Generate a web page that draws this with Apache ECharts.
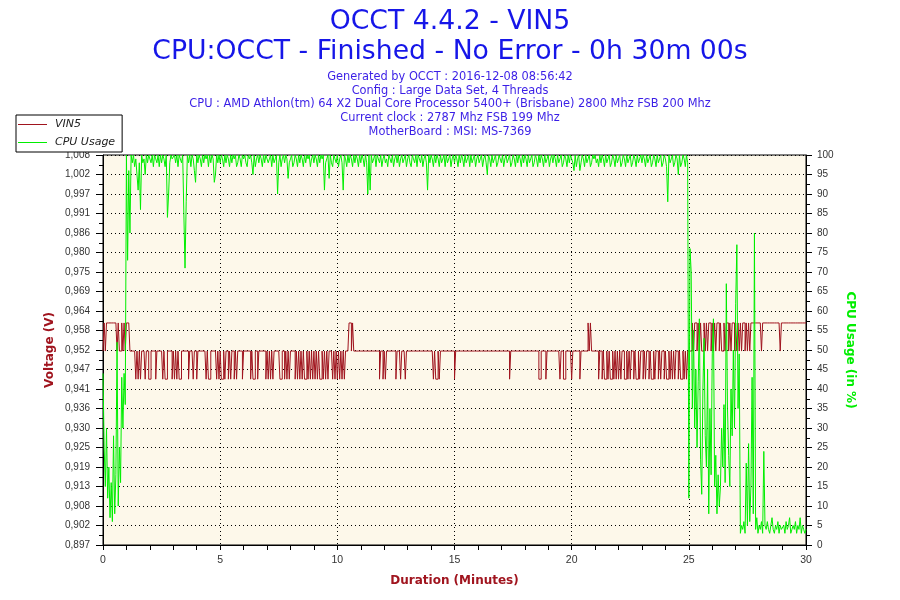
<!DOCTYPE html>
<html><head><meta charset="utf-8">
<script src="https://cdn.jsdelivr.net/npm/echarts@6/dist/echarts.min.js"></script>
<style>html,body{margin:0;padding:0;background:#fff}#c{width:900px;height:600px}</style>
</head><body><div id="c"></div>
<script>
const titleLines = ['OCCT 4.4.2 - VIN5', 'CPU:OCCT - Finished - No Error - 0h 30m 00s'];
const infoLines = [
  'Generated by OCCT : 2016-12-08 08:56:42',
  'Config : Large Data Set, 4 Threads',
  'CPU : AMD Athlon(tm) 64 X2 Dual Core Processor 5400+ (Brisbane) 2800 Mhz FSB 200 Mhz',
  'Current clock : 2787 Mhz FSB 199 Mhz',
  'MotherBoard : MSI: MS-7369'
];
const seriesNames = ['VIN5', 'CPU Usage'];
const axisNames = ['Duration (Minutes)', 'Voltage (V)', 'CPU Usage (in %)'];
const sampleStep = 0.05; // minutes between samples
const voltMin = 0.8968;
const voltStep = 0.00555;
const voltTickLabels = ['0,897','0,902','0,908','0,913','0,919','0,925','0,930','0,936','0,941','0,947','0,952','0,958','0,964','0,969','0,975','0,980','0,986','0,991','0,997','1,002','1,008'];

// VIN5 voltage, one value every 0.05 min (one row per minute)
const vinValues = [
0.952,0.960,0.952,0.960,0.960,0.960,0.960,0.960,0.960,0.960,0.960,0.960,0.952,0.960,0.952,0.952,0.960,0.952,0.960,0.952,
0.960,0.960,0.960,0.952,0.952,0.952,0.952,0.952,0.944,0.952,0.944,0.952,0.944,0.952,0.952,0.952,0.944,0.952,0.952,0.944,
0.944,0.952,0.952,0.952,0.952,0.944,0.952,0.952,0.952,0.952,0.952,0.944,0.952,0.944,0.944,0.952,0.952,0.952,0.952,0.944,
0.952,0.944,0.952,0.944,0.952,0.944,0.944,0.952,0.952,0.952,0.952,0.952,0.952,0.944,0.952,0.952,0.952,0.944,0.952,0.952,
0.944,0.952,0.952,0.952,0.952,0.952,0.952,0.952,0.944,0.952,0.944,0.944,0.952,0.952,0.952,0.952,0.952,0.944,0.952,0.944,
0.952,0.944,0.944,0.952,0.944,0.952,0.952,0.944,0.952,0.944,0.952,0.952,0.944,0.952,0.944,0.952,0.952,0.952,0.952,0.944,
0.952,0.952,0.952,0.952,0.952,0.952,0.944,0.952,0.944,0.944,0.952,0.952,0.944,0.952,0.952,0.952,0.952,0.952,0.952,0.944,
0.952,0.944,0.952,0.944,0.952,0.944,0.952,0.952,0.952,0.952,0.952,0.944,0.944,0.952,0.952,0.944,0.952,0.944,0.952,0.944,
0.952,0.952,0.952,0.952,0.944,0.952,0.944,0.952,0.944,0.952,0.944,0.952,0.944,0.944,0.952,0.944,0.952,0.944,0.952,0.944,
0.952,0.944,0.952,0.944,0.952,0.944,0.944,0.952,0.944,0.952,0.944,0.952,0.944,0.952,0.952,0.952,0.944,0.952,0.944,0.952,
0.944,0.952,0.944,0.952,0.944,0.952,0.944,0.952,0.952,0.952,0.960,0.960,0.952,0.960,0.952,0.952,0.952,0.952,0.952,0.952,
0.952,0.952,0.952,0.952,0.952,0.952,0.952,0.952,0.952,0.952,0.952,0.952,0.952,0.952,0.952,0.952,0.944,0.952,0.952,0.944,
0.952,0.944,0.952,0.952,0.952,0.952,0.952,0.952,0.952,0.952,0.944,0.952,0.952,0.952,0.944,0.952,0.952,0.952,0.944,0.952,
0.952,0.952,0.952,0.952,0.952,0.952,0.952,0.952,0.952,0.952,0.952,0.952,0.952,0.952,0.952,0.952,0.952,0.952,0.952,0.952,
0.952,0.952,0.944,0.952,0.944,0.944,0.952,0.944,0.952,0.952,0.952,0.952,0.952,0.952,0.952,0.952,0.952,0.952,0.952,0.952,
0.944,0.952,0.952,0.952,0.952,0.952,0.952,0.952,0.952,0.952,0.952,0.952,0.952,0.952,0.952,0.952,0.952,0.952,0.952,0.952,
0.952,0.952,0.952,0.952,0.952,0.952,0.952,0.952,0.952,0.952,0.952,0.952,0.952,0.952,0.952,0.952,0.952,0.952,0.952,0.952,
0.952,0.952,0.952,0.952,0.952,0.952,0.952,0.944,0.952,0.952,0.952,0.952,0.952,0.952,0.952,0.952,0.952,0.952,0.952,0.952,
0.952,0.952,0.952,0.952,0.952,0.952,0.952,0.952,0.952,0.952,0.952,0.952,0.944,0.944,0.952,0.952,0.952,0.952,0.944,0.952,
0.952,0.952,0.952,0.952,0.952,0.952,0.952,0.952,0.952,0.952,0.944,0.952,0.952,0.944,0.944,0.952,0.952,0.952,0.952,0.952,
0.944,0.952,0.952,0.952,0.952,0.952,0.952,0.944,0.952,0.952,0.952,0.952,0.952,0.952,0.960,0.952,0.960,0.952,0.952,0.952,
0.952,0.952,0.952,0.944,0.952,0.952,0.944,0.952,0.944,0.944,0.952,0.944,0.952,0.944,0.944,0.952,0.944,0.952,0.944,0.952,
0.944,0.952,0.944,0.952,0.952,0.944,0.944,0.952,0.944,0.952,0.944,0.952,0.952,0.944,0.952,0.944,0.944,0.952,0.944,0.952,
0.952,0.944,0.952,0.944,0.952,0.952,0.944,0.952,0.944,0.944,0.952,0.944,0.952,0.952,0.944,0.952,0.944,0.952,0.952,0.944,
0.952,0.944,0.944,0.952,0.944,0.952,0.944,0.952,0.944,0.952,0.952,0.944,0.952,0.944,0.944,0.952,0.944,0.952,0.944,0.952,
0.952,0.952,0.952,0.960,0.952,0.960,0.960,0.952,0.960,0.952,0.960,0.952,0.952,0.960,0.952,0.960,0.952,0.960,0.960,0.952,
0.960,0.952,0.960,0.952,0.960,0.960,0.952,0.960,0.952,0.952,0.960,0.952,0.960,0.960,0.952,0.960,0.952,0.960,0.960,0.952,
0.960,0.952,0.960,0.952,0.960,0.952,0.960,0.960,0.952,0.960,0.952,0.960,0.952,0.960,0.960,0.960,0.960,0.960,0.960,0.960,
0.960,0.960,0.952,0.960,0.960,0.960,0.960,0.960,0.960,0.960,0.960,0.960,0.960,0.960,0.960,0.960,0.960,0.960,0.952,0.960,
0.960,0.960,0.960,0.960,0.960,0.960,0.960,0.960,0.960,0.960,0.960,0.960,0.960,0.960,0.960,0.960,0.960,0.960,0.960,0.960,
0.960
];

// CPU usage in %, one value every 0.05 min (one row per minute)
const cpuValues = [
44,25,15,30,12,20,7,16,6,28,8,18,52,10,25,16,43,30,44,36,
100,73,96,80,100,98,100,97,99,95,91,98,86,100,98,99,95,100,98,100,
100,98,100,97,100,99,98,100,97,100,98,100,99,97,100,84,90,98,100,99,
99,100,98,100,97,100,99,98,100,85,71,88,100,98,100,97,100,99,96,93,
100,98,100,99,97,100,98,100,99,100,97,100,98,100,99,93,95,100,98,100,
98,100,99,97,100,98,100,99,97,100,98,100,99,100,97,98,100,99,97,100,
99,100,98,97,100,99,100,98,95,100,97,99,100,98,100,99,97,100,98,100,
100,98,99,100,97,100,98,99,100,90,98,100,97,99,100,98,100,99,94,98,
99,100,97,98,100,99,97,100,98,100,99,97,100,98,100,99,100,97,99,100,
98,100,99,97,100,98,100,99,100,91,98,99,100,94,100,98,97,100,99,98,
100,97,99,100,98,91,100,99,97,100,98,100,99,97,100,98,100,99,97,100,
98,100,99,97,100,98,90,100,91,100,98,99,100,97,100,99,98,100,97,99,
100,98,99,97,100,99,98,100,97,99,100,98,100,97,99,100,98,99,100,97,
99,100,98,97,100,99,98,100,97,100,99,98,100,97,99,100,98,91,100,98,
100,99,97,100,98,100,99,97,100,98,99,100,97,100,98,99,100,97,99,100,
98,100,99,97,100,98,100,99,97,100,98,99,100,97,100,98,99,100,97,99,
100,98,99,100,97,99,100,98,95,100,99,97,100,98,99,100,97,98,100,99,
98,100,97,99,100,98,99,100,97,98,100,99,97,100,98,100,99,97,100,98,
100,99,97,100,98,99,100,97,98,100,99,97,100,98,100,99,97,100,98,99,
100,97,99,100,98,100,99,97,100,98,99,100,97,98,100,99,97,100,98,100,
99,98,96,100,97,99,100,96,98,100,99,97,100,98,99,100,97,98,100,99,
100,98,99,97,100,98,100,99,97,100,98,99,100,97,98,100,99,97,100,98,
99,100,97,98,100,99,97,100,98,99,100,97,98,100,99,97,100,98,99,100,
98,100,99,97,100,98,99,100,97,98,100,99,97,100,98,99,100,97,98,100,
99,97,88,100,98,99,100,97,98,100,99,95,100,97,98,100,99,97,100,98,
12,76,70,35,55,30,45,25,42,58,22,13,40,53,28,20,45,8,35,18,
49,58,15,23,8,18,10,15,30,20,36,16,67,35,23,15,40,28,50,30,
62,77,35,49,3,5,4,6,3,21,5,26,6,15,43,8,80,4,7,3,
5,4,6,3,24,5,4,6,4,3,5,7,4,3,5,4,6,3,5,4,
4,5,3,6,4,5,7,3,4,5,4,6,3,5,4,7,3,5,4,3,
4
];

const FONT = '"Liberation Sans", Arial, sans-serif';
const TFONT = '"DejaVu Sans", Verdana, sans-serif';
const voltColor = '#a0141e';
const cpuColor = '#00ee00';
const voltMax = voltMin + (voltTickLabels.length - 1) * voltStep;
const voltTickValues = voltTickLabels.map((_, i) => voltMin + i * voltStep);

const chart = echarts.init(document.getElementById('c'));
chart.setOption({
  animation: false,
  backgroundColor: '#ffffff',
  title: [
    { text: titleLines.join('\n'), left: 'center', top: 2,
      textStyle: { fontFamily: TFONT, fontSize: 26.7, fontWeight: 'normal', color: '#1616e8', lineHeight: 30 } },
    { text: infoLines.join('\n'), left: 'center', top: 65,
      textStyle: { fontFamily: TFONT, fontSize: 11.4, fontWeight: 'normal', color: '#3a1ee6', lineHeight: 13.8 } }
  ],
  legend: {
    left: 16, top: 115, orient: 'vertical',
    backgroundColor: '#fff', borderColor: '#000', borderWidth: 1, borderRadius: 0,
    padding: [4, 7, 4, 2], itemGap: 7, itemWidth: 29, itemHeight: 1, icon: 'rect',
    textStyle: { fontFamily: TFONT, fontSize: 11, fontStyle: 'italic', color: '#222', padding: [0, 0, 0, 3] },
    data: [
      { name: seriesNames[0], itemStyle: { color: voltColor } },
      { name: seriesNames[1], itemStyle: { color: cpuColor } }
    ]
  },
  grid: { left: 103, right: 94, top: 155, bottom: 55, show: true, backgroundColor: '#fdf8ea', borderColor: '#000', borderWidth: 1 },
  xAxis: {
    type: 'value', min: 0, max: 30, interval: 5,
    axisLine: { lineStyle: { color: '#000' } },
    axisTick: { length: 5, lineStyle: { color: '#000' } },
    minorTick: { show: true, splitNumber: 5, length: 5, lineStyle: { color: '#000' } },
    splitLine: { show: true, lineStyle: { color: '#000', type: [1, 3] } },
    axisLabel: { fontFamily: FONT, fontSize: 10.5, color: '#333', margin: 10 },
    name: axisNames[0], nameLocation: 'middle', nameGap: 30,
    nameTextStyle: { fontFamily: TFONT, fontSize: 12, fontWeight: 'bold', color: voltColor }
  },
  yAxis: [
    {
      type: 'value', position: 'left', min: voltMin, max: voltMax,
      axisLine: { show: true, lineStyle: { color: '#000' } },
      axisTick: { show: true, length: 7, customValues: voltTickValues, lineStyle: { color: '#000' } },
      axisLabel: { customValues: voltTickValues, fontFamily: FONT, fontSize: 10, color: '#333', margin: 13,
        formatter: (v) => voltTickLabels[Math.round((v - voltMin) / voltStep)] },
      splitLine: { show: false },
      name: axisNames[1], nameLocation: 'middle', nameGap: 47, nameMoveOverlap: false,
      nameTextStyle: { fontFamily: TFONT, fontSize: 12, fontWeight: 'bold', color: voltColor }
    },
    {
      type: 'value', position: 'right', min: 0, max: 100, interval: 5,
      axisLine: { show: true, lineStyle: { color: '#000' } },
      axisTick: { show: true, length: 6, lineStyle: { color: '#000' } },
      minorTick: { show: true, splitNumber: 2, length: 4, lineStyle: { color: '#000' } },
      axisLabel: { fontFamily: FONT, fontSize: 10, color: '#333', margin: 11 },
      splitLine: { show: true, lineStyle: { color: '#000', type: [1, 3] } },
      name: axisNames[2], nameLocation: 'middle', nameGap: 38, nameRotate: -90,
      nameTextStyle: { fontFamily: TFONT, fontSize: 12, fontWeight: 'bold', color: cpuColor }
    },
    {
      type: 'value', position: 'left', min: 0, max: 40, interval: 1,
      axisLine: { show: false },
      axisTick: { show: true, length: 4, lineStyle: { color: '#000' } },
      axisLabel: { show: false },
      splitLine: { show: false }
    }
  ],
  series: [
    { name: seriesNames[0], type: 'line', yAxisIndex: 0, step: 'end', symbol: 'none', showSymbol: false,
      lineStyle: { width: 1, color: voltColor }, itemStyle: { color: voltColor },
      data: vinValues.map((v, i) => [i * sampleStep, v]) },
    { name: seriesNames[1], type: 'line', yAxisIndex: 1, symbol: 'none', showSymbol: false,
      lineStyle: { width: 1, color: cpuColor }, itemStyle: { color: cpuColor },
      data: cpuValues.map((v, i) => [i * sampleStep, v]) }
  ]
});
</script>
</body></html>
